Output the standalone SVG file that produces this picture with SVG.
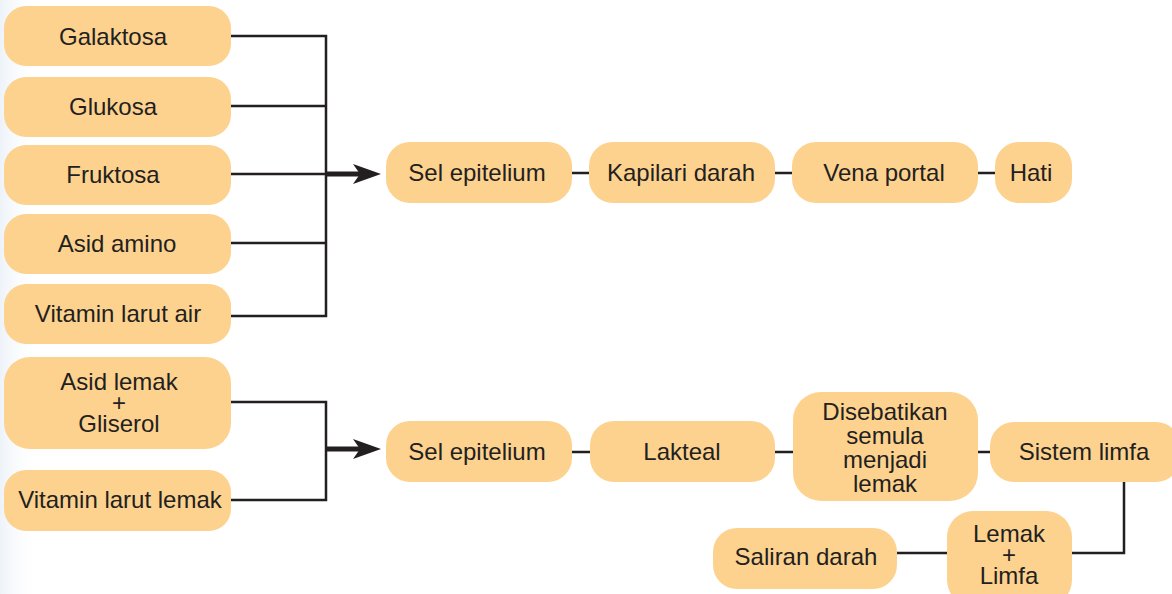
<svg xmlns="http://www.w3.org/2000/svg" width="1172" height="594" viewBox="0 0 1172 594">
  <style>
    .box { fill: #fdd28f; }
    .lbl { font-family: "Liberation Sans", Arial, sans-serif; font-size: 24px; fill: #231f20; text-anchor: middle; }
    .wire { fill: none; stroke: #231f20; stroke-width: 2.5; }
    .shaft { fill: none; stroke: #231f20; stroke-width: 5; }
  </style>
  <defs>
    <linearGradient id="edge" x1="0" y1="0" x2="1" y2="0">
      <stop offset="0" stop-color="#eef3f9"/>
      <stop offset="1" stop-color="#ffffff" stop-opacity="0"/>
    </linearGradient>
    <path id="head" d="M0,0 L-28,-10 L-21,0 L-28,10 Z" fill="#231f20"/>
  </defs>

  <rect width="1172" height="594" fill="#ffffff"/>
  <rect width="40" height="594" fill="url(#edge)"/>

  <!-- connectors -->
  <g id="connectors">
    <!-- upper bracket -->
    <path class="wire" d="M231,36 H326 V316 H231 M231,106 H326 M231,174 H326 M231,243 H326"/>
    <path class="shaft" d="M326,174 H362"/>
    <use href="#head" x="381" y="174"/>
    <!-- upper chain -->
    <path class="wire" d="M572,173 H590 M775,173 H792 M978,173 H995"/>
    <!-- lower bracket -->
    <path class="wire" d="M231,402 H326 V500 H231"/>
    <path class="shaft" d="M326,449 H362"/>
    <use href="#head" x="381" y="449"/>
    <!-- lower chain -->
    <path class="wire" d="M572,452 H590 M775,452 H793 M978,452 H990"/>
    <path class="wire" d="M1124,482 V553 H1072 M947,553 H897"/>
  </g>

  <!-- inputs, upper group -->
  <g id="galaktosa"><rect class="box" x="4" y="6" width="227" height="60" rx="22"/><text class="lbl" x="113" y="45">Galaktosa</text></g>
  <g id="glukosa"><rect class="box" x="4" y="77" width="227" height="60" rx="22"/><text class="lbl" x="113" y="115">Glukosa</text></g>
  <g id="fruktosa"><rect class="box" x="4" y="145" width="227" height="60" rx="22"/><text class="lbl" x="113" y="183">Fruktosa</text></g>
  <g id="asid-amino"><rect class="box" x="4" y="214" width="227" height="60" rx="22"/><text class="lbl" x="117" y="252">Asid amino</text></g>
  <g id="vitamin-air"><rect class="box" x="4" y="284" width="227" height="60" rx="22"/><text class="lbl" x="118" y="322">Vitamin larut air</text></g>

  <!-- upper pathway -->
  <g id="sel-epitelium-1"><rect class="box" x="386" y="142" width="186" height="61" rx="24"/><text class="lbl" x="477" y="181">Sel epitelium</text></g>
  <g id="kapilari-darah"><rect class="box" x="589" y="142" width="186" height="61" rx="24"/><text class="lbl" x="681" y="181">Kapilari darah</text></g>
  <g id="vena-portal"><rect class="box" x="792" y="142" width="186" height="61" rx="24"/><text class="lbl" x="884" y="181">Vena portal</text></g>
  <g id="hati"><rect class="box" x="995" y="142" width="77" height="61" rx="24"/><text class="lbl" x="1031" y="181">Hati</text></g>

  <!-- inputs, lower group -->
  <g id="asid-lemak-gliserol"><rect class="box" x="4" y="357" width="227" height="92" rx="26"/>
    <text class="lbl" x="119" y="390">Asid lemak</text>
    <text class="lbl" x="119" y="411">+</text>
    <text class="lbl" x="119" y="432">Gliserol</text></g>
  <g id="vitamin-lemak"><rect class="box" x="4" y="470" width="227" height="61" rx="22"/><text class="lbl" x="120" y="508">Vitamin larut lemak</text></g>

  <!-- lower pathway -->
  <g id="sel-epitelium-2"><rect class="box" x="386" y="421" width="186" height="61" rx="24"/><text class="lbl" x="477" y="460">Sel epitelium</text></g>
  <g id="lakteal"><rect class="box" x="590" y="421" width="185" height="61" rx="24"/><text class="lbl" x="682" y="460">Lakteal</text></g>
  <g id="disebatikan"><rect class="box" x="793" y="392" width="185" height="109" rx="28"/>
    <text class="lbl" x="885" y="420">Disebatikan</text>
    <text class="lbl" x="885" y="444">semula</text>
    <text class="lbl" x="885" y="468">menjadi</text>
    <text class="lbl" x="885" y="492">lemak</text></g>
  <g id="sistem-limfa"><rect class="box" x="990" y="422" width="190" height="60" rx="24"/><text class="lbl" x="1084" y="460">Sistem limfa</text></g>
  <g id="lemak-limfa"><rect class="box" x="947" y="511" width="125" height="95" rx="26"/>
    <text class="lbl" x="1009" y="542">Lemak</text>
    <text class="lbl" x="1009" y="563">+</text>
    <text class="lbl" x="1009" y="584">Limfa</text></g>
  <g id="saliran-darah"><rect class="box" x="713" y="528" width="184" height="61" rx="24"/><text class="lbl" x="806" y="565">Saliran darah</text></g>
</svg>
